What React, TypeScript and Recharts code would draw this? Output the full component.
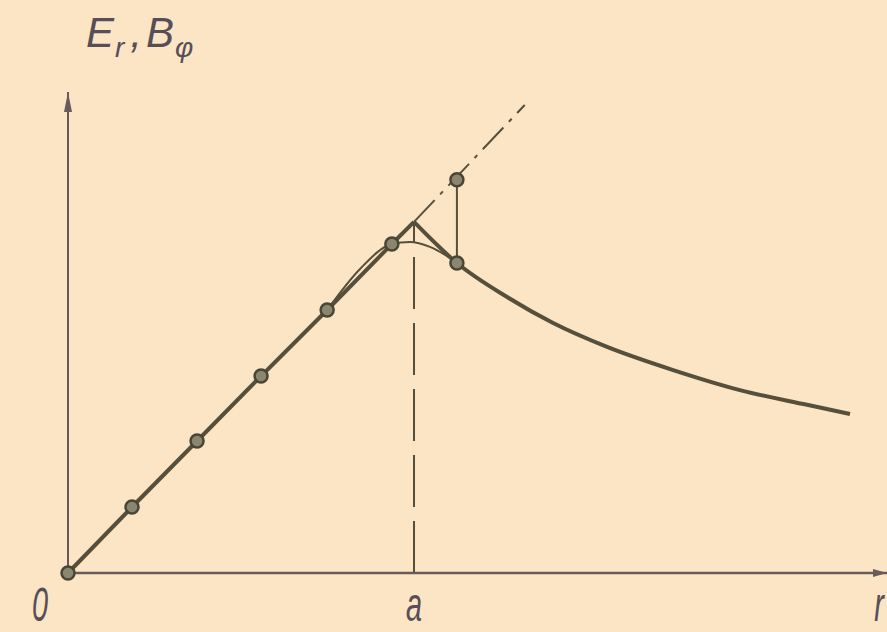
import { ComposedChart, Line, Scatter, XAxis, YAxis, ReferenceLine, ReferenceDot } from "recharts"

// Radius r in units of a, field in units of its value at r = a
const insideR = [0, 0.185, 0.373, 0.558, 0.749, 0.936, 1.0]
const insideV = [0, 0.188, 0.376, 0.561, 0.749, 0.937, 1.0]

const outsideR = [1.0, 1.124, 1.269, 1.402, 1.558, 1.749, 1.942, 2.136, 2.26]
const outsideV = [1.0, 0.883, 0.786, 0.712, 0.644, 0.578, 0.521, 0.479, 0.453]

// rounded measured curve near the surface
const smoothR = [0.749, 0.844, 0.936, 0.988, 1.046, 1.104, 1.124]
const smoothV = [0.749, 0.866, 0.937, 0.943, 0.929, 0.897, 0.883]

const extendR = [1.0, 1.32]
const extendV = [1.0, 1.333]

const markR = [0, 0.185, 0.373, 0.558, 0.749, 0.936, 1.124, 1.124]
const markV = [0, 0.188, 0.376, 0.561, 0.749, 0.937, 1.12, 0.883]

const tickValues = [0, 1, 2.34]
const tickLabels = ["0", "a", "r"]

const X_MAX = 2.367
const Y_MAX = 1.37

const zip = (xs: number[], ys: number[]) => xs.map((x, i) => ({ x, y: ys[i] }))

const inside = zip(insideR, insideV)
const outside = zip(outsideR, outsideV)
const smooth = zip(smoothR, smoothV)
const extend = zip(extendR, extendV)
const marks = zip(markR, markV)
const aLine = zip([1, 1], [0, 1])
const connector = zip([markR[6], markR[7]], [markV[7], markV[6]])

const INK = "#564f3c"
const AXIS = "#695a5e"
const TEXT = "#574e58"
const FONT = "'Liberation Sans', 'DejaVu Sans', sans-serif"

const tickShift = [-28, 0, 6]

function AxisTick(props: any) {
  const { x, y, payload } = props
  const i = tickValues.indexOf(payload.value)
  const cx = x + (tickShift[i] ?? 0)
  return (
    <text
      x={cx}
      y={y + 40}
      textAnchor="middle"
      fill={TEXT}
      fontFamily={FONT}
      fontStyle="italic"
      fontSize={48}
      transform={`translate(${cx},0) scale(0.6,1) translate(${-cx},0)`}
    >
      {tickLabels[i] ?? ""}
    </text>
  )
}

const upArrow = (p: any) => (
  <polygon points={`${p.cx},${p.cy} ${p.cx - 4},${p.cy + 20} ${p.cx + 4},${p.cy + 20}`} fill={AXIS} />
)
const rightArrow = (p: any) => (
  <polygon points={`${p.cx},${p.cy} ${p.cx - 14},${p.cy - 4} ${p.cx - 14},${p.cy + 4}`} fill={AXIS} />
)
const marker = (p: any) => (
  <circle cx={p.cx} cy={p.cy} r={6.5} fill="#8a8670" stroke="#4a4637" strokeWidth={2.5} />
)

export default function App() {
  return (
    <div
      style={{
        position: "absolute",
        left: 0,
        top: 0,
        width: 887,
        height: 632,
        background: "#fbe5c4",
        overflow: "hidden",
      }}
    >
      <ComposedChart width={887} height={632} margin={{ top: 92, right: 0, bottom: 0, left: 68 }}>
        <XAxis
          type="number"
          dataKey="x"
          domain={[0, X_MAX]}
          ticks={tickValues}
          tick={<AxisTick />}
          tickLine={false}
          axisLine={{ stroke: AXIS, strokeWidth: 2.5 }}
          height={59}
        />
        <YAxis type="number" dataKey="y" domain={[0, Y_MAX]} hide />
        <ReferenceLine x={0} stroke={AXIS} strokeWidth={2} ifOverflow="visible" />
        <ReferenceDot x={0} y={Y_MAX} shape={upArrow} ifOverflow="visible" />
        <ReferenceDot x={X_MAX} y={0} shape={rightArrow} ifOverflow="visible" />

        <Line data={aLine} dataKey="y" type="linear" stroke={INK} strokeWidth={2} strokeDasharray="52 14" dot={false} isAnimationActive={false} />
        <Line data={extend} dataKey="y" type="linear" stroke={INK} strokeWidth={2} strokeDasharray="30 8 4 8" dot={false} isAnimationActive={false} />
        <Line data={connector} dataKey="y" type="linear" stroke={INK} strokeWidth={2} dot={false} isAnimationActive={false} />
        <Line data={smooth} dataKey="y" type="monotone" stroke={INK} strokeWidth={2} dot={false} isAnimationActive={false} />
        <Line data={inside} dataKey="y" type="linear" stroke={INK} strokeWidth={4} dot={false} isAnimationActive={false} />
        <Line data={outside} dataKey="y" type="monotone" stroke={INK} strokeWidth={4} dot={false} isAnimationActive={false} />
        <Scatter data={marks} dataKey="y" shape={marker} isAnimationActive={false} />
      </ComposedChart>

      <div style={{ position: "absolute", left: 86, top: 12, fontFamily: FONT, fontStyle: "italic", color: TEXT, whiteSpace: "nowrap", lineHeight: 1 }}>
        <span style={{ fontSize: 42 }}>E</span>
        <span style={{ fontSize: 28, position: "relative", top: 10, marginLeft: 1 }}>r</span>
        <span style={{ fontSize: 42, marginLeft: 6 }}>,</span>
        <span style={{ fontSize: 42, marginLeft: 4 }}>B</span>
        <span style={{ fontSize: 28, position: "relative", top: 10, marginLeft: 1 }}>φ</span>
      </div>
    </div>
  )
}
